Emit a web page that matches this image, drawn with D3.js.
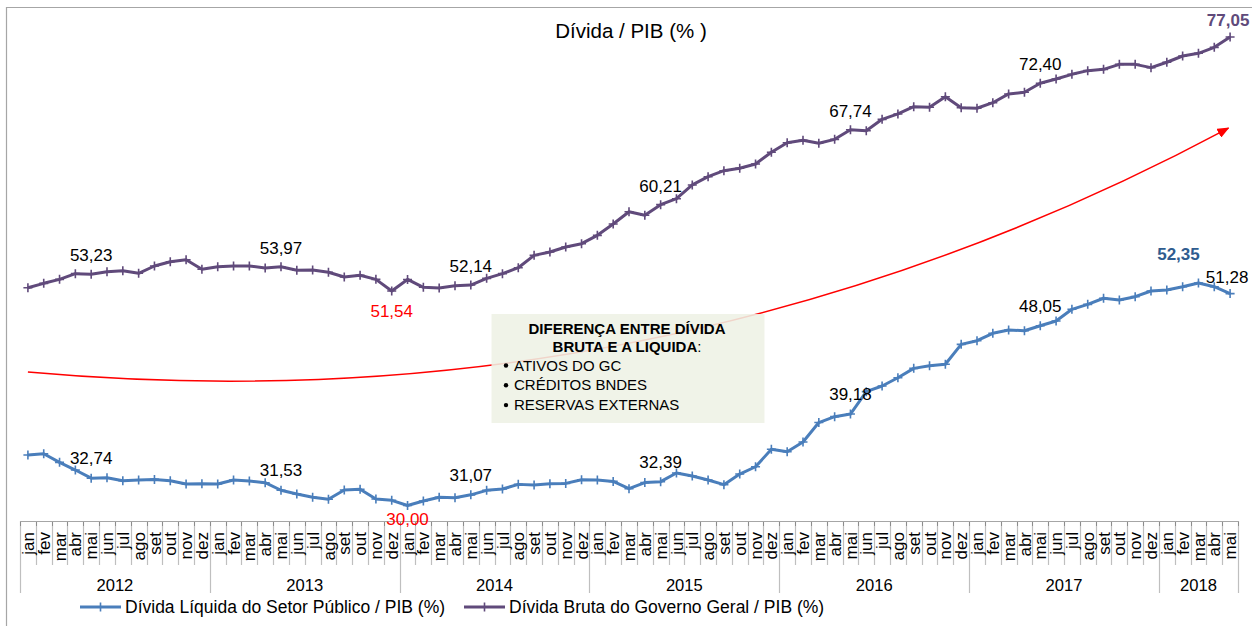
<!DOCTYPE html>
<html>
<head>
<meta charset="utf-8">
<script src="https://cdn.jsdelivr.net/npm/d3@7"></script>
<style>
  html, body { margin: 0; padding: 0; background: #ffffff; }
  svg { display: block; font-family: "Liberation Sans", Arial, sans-serif; }
</style>
</head>
<body>
<svg id="chart" width="1252" height="626"></svg>
<script>
// ---------------- DATA ----------------
const monthNames = ["jan","fev","mar","abr","mai","jun","jul","ago","set","out","nov","dez"];
const years = ["2012","2013","2014","2015","2016","2017","2018"];
const monthsInYear = [12,12,12,12,12,12,5];

const netDebt = [
  35.07,35.20,34.33,33.56,32.74,32.79,32.49,32.56,32.62,32.49,32.16,32.19,
  32.16,32.56,32.46,32.29,31.53,31.15,30.82,30.62,31.55,31.63,30.65,30.52,
  30.00,30.45,30.82,30.78,31.07,31.52,31.65,32.12,32.05,32.19,32.22,32.59,
  32.56,32.42,31.69,32.30,32.39,33.26,32.96,32.56,32.09,33.16,33.89,35.64,
  35.40,36.37,38.33,38.92,39.18,41.43,42.00,42.83,43.77,44.04,44.18,46.18,
  46.55,47.29,47.62,47.55,48.05,48.53,49.70,50.20,50.81,50.64,50.97,51.54,
  51.64,51.97,52.35,51.97,51.28
];
const grossDebt = [
  51.87,52.31,52.71,53.28,53.23,53.48,53.58,53.32,54.05,54.48,54.68,53.72,
  53.98,54.05,54.05,53.85,53.97,53.62,53.65,53.42,52.95,53.12,52.71,51.54,
  52.70,51.91,51.84,52.07,52.14,52.81,53.28,53.88,55.12,55.46,55.96,56.29,
  57.13,58.27,59.50,59.14,60.21,60.81,62.19,63.02,63.62,63.86,64.30,65.47,
  66.43,66.67,66.37,66.77,67.74,67.64,68.78,69.32,70.05,69.99,71.05,69.95,
  69.89,70.45,71.33,71.50,72.40,72.83,73.30,73.67,73.80,74.30,74.30,73.97,
  74.51,75.14,75.41,76.01,77.05
];
// labelled points (month index)
const netLabelIdx = [4,16,28,40,52,64,76];
const netMinIdx = 24;
const netMaxIdx = 74;
const grossLabelIdx = [4,16,28,40,52,64];
const grossMinIdx = 23;
const grossLastIdx = 76;

// red arrow (month index, %) : cubic bezier control points
const arrowCurve = [[0, 43.4],[26.7, 39.6],[52, 47.6],[75.9, 67.9]];

const titleText = "Dívida / PIB (% )";
const netName = "Dívida Líquida do Setor Público / PIB (%)";
const grossName = "Dívida Bruta do Governo Geral / PIB (%)";
const boxTitle = ["DIFERENÇA ENTRE DÍVIDA", "BRUTA E A LIQUIDA"];
const boxItems = ["ATIVOS  DO GC", "CRÉDITOS BNDES", "RESERVAS EXTERNAS"];

// ---------------- LAYOUT ----------------
const W = 1252, H = 626;
const plotLeft = 20, plotRight = 1238, axisY = 521;
const netColor = "#4a7ebb", grossColor = "#604a7b";
const fmt = v => v.toFixed(2).replace(".", ",");

const svg = d3.select("#chart");
const n = netDebt.length;
const idx = d3.range(n);

const x = d3.scaleBand().domain(idx).range([plotLeft, plotRight]).padding(0);
const bw = x.bandwidth();
const cx = i => x(i) + bw / 2;
const xi = d3.scaleLinear().domain([0, n - 1]).range([cx(0), cx(n - 1)]);
const y = d3.scaleLinear().domain([28, 80]).range([525.4, 7.6]);

// frame
svg.append("path")
  .attr("d", `M6.5,${H+2} L6.5,7.5 L${W+2},7.5`)
  .attr("fill", "none").attr("stroke", "#a6a6a6").attr("stroke-width", 1.2);

// title
svg.append("text").attr("x", 631).attr("y", 38)
  .attr("text-anchor", "middle").attr("font-size", 20.5).attr("fill", "#000")
  .text(titleText);

// ---------------- X AXIS ----------------
const axisG = svg.append("g");
const bounds = d3.range(n + 1);
let yearStarts = [0];
monthsInYear.reduce((acc, m) => { acc += m; yearStarts.push(acc); return acc; }, 0);
axisG.selectAll("line.tick").data(bounds).join("line")
  .attr("x1", k => Math.round(plotLeft + k * bw) + 0.5)
  .attr("x2", k => Math.round(plotLeft + k * bw) + 0.5)
  .attr("y1", axisY)
  .attr("y2", k => yearStarts.includes(k) ? 593 : 565)
  .attr("stroke", "#bfbfbf").attr("stroke-width", 1.2);
axisG.selectAll("line.mt").data(bounds).join("line")
  .attr("x1", k => Math.round(plotLeft + k * bw) + 0.5)
  .attr("x2", k => Math.round(plotLeft + k * bw) + 0.5)
  .attr("y1", axisY).attr("y2", axisY + 5)
  .attr("stroke", "#8c8c8c").attr("stroke-width", 1);
axisG.append("line")
  .attr("x1", plotLeft).attr("x2", plotRight + 1)
  .attr("y1", axisY + 0.5).attr("y2", axisY + 0.5)
  .attr("stroke", "#a6a6a6").attr("stroke-width", 1.2);

// month labels
axisG.selectAll("text.m").data(idx).join("text")
  .attr("transform", i => `translate(${cx(i)},${axisY + 11}) rotate(-90)`)
  .attr("text-anchor", "end").attr("dy", "0.36em")
  .attr("font-size", 17).attr("fill", "#000")
  .text(i => monthNames[i % 12]);

// year labels
axisG.selectAll("text.y").data(years).join("text")
  .attr("x", (d, j) => plotLeft + (yearStarts[j] + yearStarts[j + 1]) / 2 * bw)
  .attr("y", 591)
  .attr("text-anchor", "middle").attr("font-size", 16.6).attr("fill", "#000")
  .text(d => d);

// ---------------- RED ARROW ----------------
svg.append("defs").append("marker")
  .attr("id", "arrow").attr("viewBox", "0 0 12 10")
  .attr("refX", 11).attr("refY", 5)
  .attr("markerWidth", 12).attr("markerHeight", 10)
  .attr("markerUnits", "userSpaceOnUse")
  .attr("orient", "auto")
  .append("path").attr("d", "M0,0 L12,5 L0,10 Z").attr("fill", "#ff0000");

const ap = d3.path();
const P = arrowCurve.map(([i, v]) => [xi(i), y(v)]);
ap.moveTo(P[0][0], P[0][1]);
ap.bezierCurveTo(P[1][0], P[1][1], P[2][0], P[2][1], P[3][0], P[3][1]);
svg.append("path").attr("d", ap.toString())
  .attr("fill", "none").attr("stroke", "#ff0000").attr("stroke-width", 1.5)
  .attr("marker-end", "url(#arrow)");

// ---------------- ANNOTATION BOX ----------------
const box = svg.append("g");
box.append("rect").attr("x", 491.5).attr("y", 314).attr("width", 273).attr("height", 109)
  .attr("fill", "#eef1e5").attr("fill-opacity", 0.88);
box.append("text").attr("x", 627).attr("y", 333.5).attr("text-anchor", "middle")
  .attr("font-size", 15).attr("font-weight", "bold").text(boxTitle[0]);
const t2 = box.append("text").attr("x", 627).attr("y", 352).attr("text-anchor", "middle")
  .attr("font-size", 15);
t2.append("tspan").attr("font-weight", "bold").text(boxTitle[1]);
t2.append("tspan").text(":");
boxItems.forEach((s, k) => {
  const ty = 370.5 + k * 19.8;
  box.append("circle").attr("cx", 506).attr("cy", ty - 5).attr("r", 2.2).attr("fill", "#000");
  box.append("text").attr("x", 514).attr("y", ty).attr("font-size", 15).text(s);
});

// ---------------- SERIES ----------------
function drawSeries(data, color) {
  const g = svg.append("g");
  g.append("path").datum(data)
    .attr("d", d3.line().x((d, i) => cx(i)).y(d => y(d)))
    .attr("fill", "none").attr("stroke", color).attr("stroke-width", 3)
    .attr("stroke-linejoin", "round");
  g.selectAll("path.pt").data(data).join("path")
    .attr("d", (d, i) => `M${cx(i) - 4.5},${y(d)} h9 M${cx(i)},${y(d) - 4.5} v9`)
    .attr("stroke", color).attr("stroke-width", 1.6).attr("fill", "none");
}
drawSeries(netDebt, netColor);
drawSeries(grossDebt, grossColor);

// ---------------- DATA LABELS ----------------
const lab = svg.append("g").attr("font-size", 17).attr("text-anchor", "middle");
function addLabel(i, v, dy, opts = {}) {
  lab.append("text")
    .attr("x", cx(i) + (opts.dx || 0)).attr("y", y(v) + dy)
    .attr("fill", opts.color || "#000")
    .attr("font-weight", opts.bold ? "bold" : "normal")
    .text(fmt(v));
}
netLabelIdx.forEach(i => {
  if (i === n - 1) addLabel(i, netDebt[i], -11, { dx: -3 });
  else addLabel(i, netDebt[i], -14);
});
addLabel(netMinIdx, netDebt[netMinIdx], 20, { color: "#ff0000" });
addLabel(netMaxIdx, netDebt[netMaxIdx], -23, { color: "#2f5c8f", bold: true, dx: -20 });
grossLabelIdx.forEach(i => addLabel(i, grossDebt[i], -13));
addLabel(grossMinIdx, grossDebt[grossMinIdx], 26, { color: "#ff0000" });
addLabel(grossLastIdx, grossDebt[grossLastIdx], -11, { color: grossColor, bold: true, dx: -2 });

// ---------------- LEGEND ----------------
const legend = [
  { name: netName, color: netColor, x0: 80 },
  { name: grossName, color: grossColor, x0: 464 }
];
const lg = svg.append("g");
legend.forEach(d => {
  lg.append("line").attr("x1", d.x0).attr("x2", d.x0 + 41)
    .attr("y1", 607).attr("y2", 607)
    .attr("stroke", d.color).attr("stroke-width", 3);
  lg.append("path")
    .attr("d", `M${d.x0 + 16},607 h9 M${d.x0 + 20.5},602.5 v9`)
    .attr("stroke", d.color).attr("stroke-width", 1.6);
  lg.append("text").attr("x", d.x0 + 45).attr("y", 613)
    .attr("font-size", 17.5).attr("fill", "#000").text(d.name);
});
</script>
</body>
</html>
